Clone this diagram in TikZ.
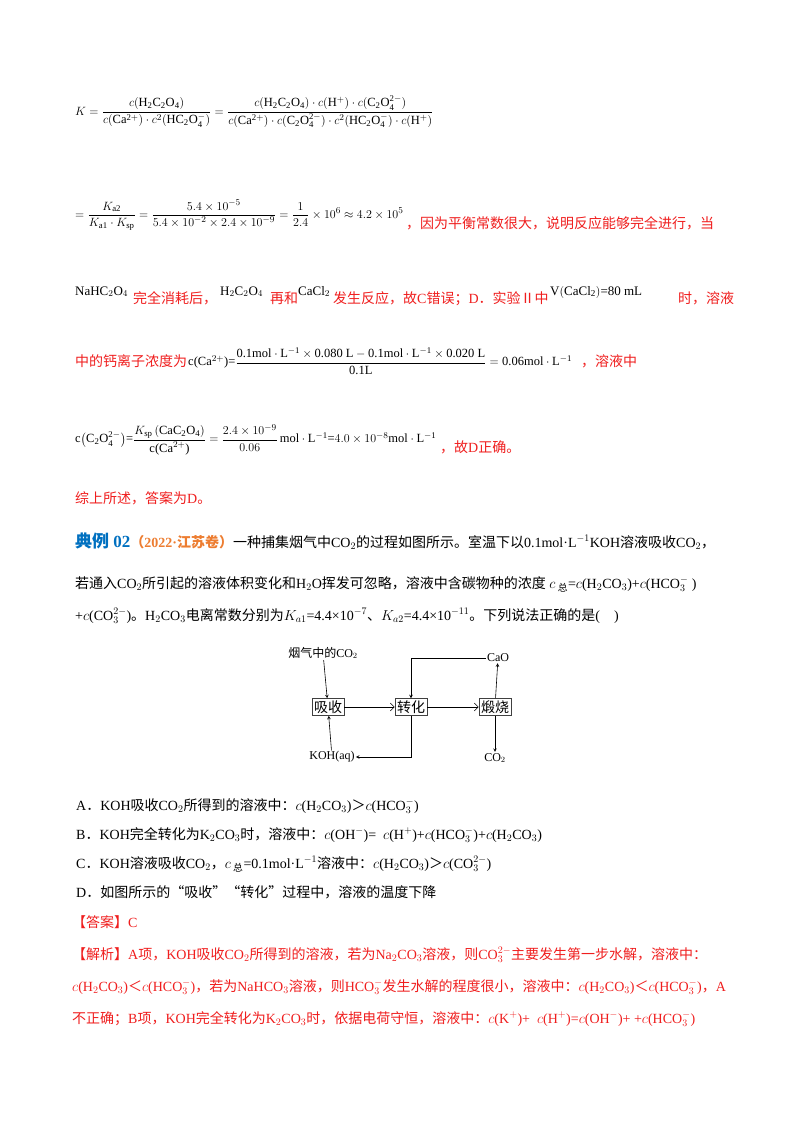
\documentclass[tikz,border=0pt]{standalone}
\usepackage{fontspec}
\usepackage{amsmath}
\usetikzlibrary{arrows.meta}
\setmainfont{Liberation Serif}
\newfontfamily\cjk{Noto Sans CJK SC}
\XeTeXinterchartokenstate=1
\newXeTeXintercharclass\cjkclass
\newcount\cc
\cc="4E00 \loop \XeTeXcharclass\cc=\cjkclass \ifnum\cc<"9FFF \advance\cc 1 \repeat
\cc="3000 \loop \XeTeXcharclass\cc=\cjkclass \ifnum\cc<"303F \advance\cc 1 \repeat
\cc="FF00 \loop \XeTeXcharclass\cc=\cjkclass \ifnum\cc<"FFEF \advance\cc 1 \repeat
\XeTeXcharclass"201C=\cjkclass \XeTeXcharclass"201D=\cjkclass \XeTeXcharclass"2161=\cjkclass
\XeTeXinterchartoks 0 \cjkclass={\begingroup\cjk}
\XeTeXinterchartoks 4095 \cjkclass={\begingroup\cjk}
\XeTeXinterchartoks \cjkclass 0={\endgroup}
\XeTeXinterchartoks \cjkclass 4095={\endgroup}
\definecolor{myred}{RGB}{240,30,30}
\definecolor{myblue}{RGB}{0,112,192}
\definecolor{myorange}{RGB}{237,125,49}
\newcommand{\mr}[1]{\mathrm{#1}}
\begin{document}
\begin{tikzpicture}[x=1pt,y=-1pt,
  txt/.style={anchor=base west,inner sep=0pt,font=\fontsize{14}{17}\selectfont},
  rtxt/.style={txt,text=myred},
  fml/.style={anchor=west,inner sep=0pt,font=\fontsize{12.5}{15}\selectfont},
  box/.style={draw=black!75,line width=0.6pt,inner sep=2pt,font=\fontsize{14}{17}\selectfont},
  lab/.style={inner sep=1pt,font=\fontsize{12}{14}\selectfont},
  arr/.style={-{Straight Barb[length=4pt]},line width=0.6pt},
  arrs/.style={-stealth,line width=0.6pt}]
\useasboundingbox (0,0) rectangle (800,1132);
\fill[white] (0,0) rectangle (800,1132);
% formula lines
\node[fml] (k1) at (75,112) {$K=\dfrac{c(\mr{H_2C_2O_4})}{c(\mr{Ca^{2+}})\cdot c^2(\mr{HC_2O_4^-})}=\dfrac{c(\mr{H_2C_2O_4})\cdot c(\mr{H^+})\cdot c(\mr{C_2O_4^{2-}})}{c(\mr{Ca^{2+}})\cdot c(\mr{C_2O_4^{2-}})\cdot c^2(\mr{HC_2O_4^-})\cdot c(\mr{H^+})}$};
\node[fml] (k2) at (75,215) {$=\dfrac{K_{\mr{a2}}}{K_{\mr{a1}}\cdot K_{\mr{sp}}}=\dfrac{5.4\times10^{-5}}{5.4\times10^{-2}\times2.4\times10^{-9}}=\dfrac{1}{2.4}\times10^{6}\approx4.2\times10^{5}$};
\node[rtxt] (t2) at (406,228) {，因为平衡常数很大，说明反应能够完全进行，当};
\node[txt,font=\fontsize{13}{16}\selectfont] (t3a) at (75,295) {NaHC$_2$O$_4$};
\node[rtxt] (t3b) at (133,303) {完全消耗后，};
\node[txt,font=\fontsize{13}{16}\selectfont] (t3c) at (220,295) {H$_2$C$_2$O$_4$};
\node[rtxt] (t3d) at (270,303) {再和};
\node[txt,font=\fontsize{13}{16}\selectfont] (t3e) at (298,295) {CaCl$_2$};
\node[rtxt] (t3f) at (333,303) {发生反应，故C错误；D．实验Ⅱ中};
\node[txt,font=\fontsize{13}{16}\selectfont] (t3g) at (550,295) {V$\left(\mr{CaCl_2}\right)$=80 mL};
\node[rtxt] (t3h) at (678,303) {时，溶液};
\node[rtxt] (t4a) at (75,366) {中的钙离子浓度为};
\node[fml] (t4b) at (188,361) {c(Ca$^{2+}$)=$\dfrac{\text{0.1mol}\cdot\mr{L^{-1}}\times\text{0.080 L}-\text{0.1mol}\cdot\mr{L^{-1}}\times\text{0.020 L}}{\text{0.1L}}=\text{0.06mol}\cdot\mr{L^{-1}}$};
\node[rtxt] (t4c) at (581,366) {，溶液中};
\node[fml] (t5) at (75,440) {c$\left(\mr{C_2O_4^{2-}}\right)$=$\dfrac{K_{\mr{sp}}\left(\mr{CaC_2O_4}\right)}{\text{c(Ca}^{2+}\text{)}}=\dfrac{2.4\times10^{-9}}{0.06}\,\text{mol}\cdot\mr{L^{-1}}\text{=}4.0\times10^{-8}\text{mol}\cdot\mr{L^{-1}}$};
\node[rtxt] (t5b) at (440,452) {，故D正确。};
\node[rtxt] (t6) at (75,503) {综上所述，答案为D。};
\node[txt] (t7) at (75,547) {\textcolor{myblue}{\fontsize{17}{20}\selectfont\bfseries 典例 02}\textcolor{myorange}{\bfseries（2022·江苏卷）}一种捕集烟气中CO$_2$的过程如图所示。室温下以0.1mol·L$^{-1}$KOH溶液吸收CO$_2$，};
\node[txt] (t8) at (75,588) {若通入CO$_2$所引起的溶液体积变化和H$_2$O挥发可忽略，溶液中含碳物种的浓度 $c$\,$_{\text{总}}$=$c$(H$_2$CO$_3$)+$c$(HCO$_3^-$ )};
\node[txt] (t9) at (75,620) {+$c$(CO$_3^{2-}$)。H$_2$CO$_3$电离常数分别为$K_{a1}$=4.4×10$^{-7}$、$K_{a2}$=4.4×10$^{-11}$。下列说法正确的是(\quad)};
% diagram
\node[box] (xs) at (328,707) {吸收};
\node[box] (zh) at (411,707) {转化};
\node[box] (ds) at (495,707) {煅烧};
\node[lab] (yq) at (323,653) {烟气中的CO$_2$};
\node[lab] (cao) at (498,658) {CaO};
\node[lab] (koh) at (332,757) {KOH(aq)};
\node[lab] (co2) at (495,758) {CO$_2$};
\draw[arrs] (yq) -- (xs);
\draw[arr] (xs) -- (zh);
\draw[arr] (zh) -- (ds);
\draw[arrs] (ds) -- (cao);
\draw[arrs] (ds) -- (co2);
\draw[arrs] (koh) -- (xs);
\draw[arrs] (cao.west) -- (cao.west -| zh) -- (zh);
\draw[arrs] (zh.south) -- (zh.south |- koh) -- (koh.east);
% options
\node[txt] (oa) at (76,810) {A．KOH吸收CO$_2$所得到的溶液中：$c$(H$_2$CO$_3$)＞$c$(HCO$_3^-$)};
\node[txt] (ob) at (76,839) {B．KOH完全转化为K$_2$CO$_3$时，溶液中：$c$(OH$^-$)= \ $c$(H$^+$)+$c$(HCO$_3^-$)+$c$(H$_2$CO$_3$)};
\node[txt] (oc) at (76,868) {C．KOH溶液吸收CO$_2$，$c$\,$_{\text{总}}$=0.1mol·L$^{-1}$溶液中：$c$(H$_2$CO$_3$)＞$c$(CO$_3^{2-}$)};
\node[txt] (od) at (76,897) {D．如图所示的“吸收”“转化”过程中，溶液的温度下降};
\node[rtxt] (an) at (72,927) {【答案】C};
\node[rtxt] (j1) at (72,959) {【解析】A项，KOH吸收CO$_2$所得到的溶液，若为Na$_2$CO$_3$溶液，则CO$_3^{2-}$主要发生第一步水解，溶液中：};
\node[rtxt] (j2) at (72,991) {$c$(H$_2$CO$_3$)＜$c$(HCO$_3^-$)，若为NaHCO$_3$溶液，则HCO$_3^-$发生水解的程度很小，溶液中：$c$(H$_2$CO$_3$)＜$c$(HCO$_3^-$)，A};
\node[rtxt] (j3) at (72,1023) {不正确；B项，KOH完全转化为K$_2$CO$_3$时，依据电荷守恒，溶液中：$c$(K$^+$)+ \ $c$(H$^+$)=$c$(OH$^-$)+ +$c$(HCO$_3^-$)};
\end{tikzpicture}
\end{document}
